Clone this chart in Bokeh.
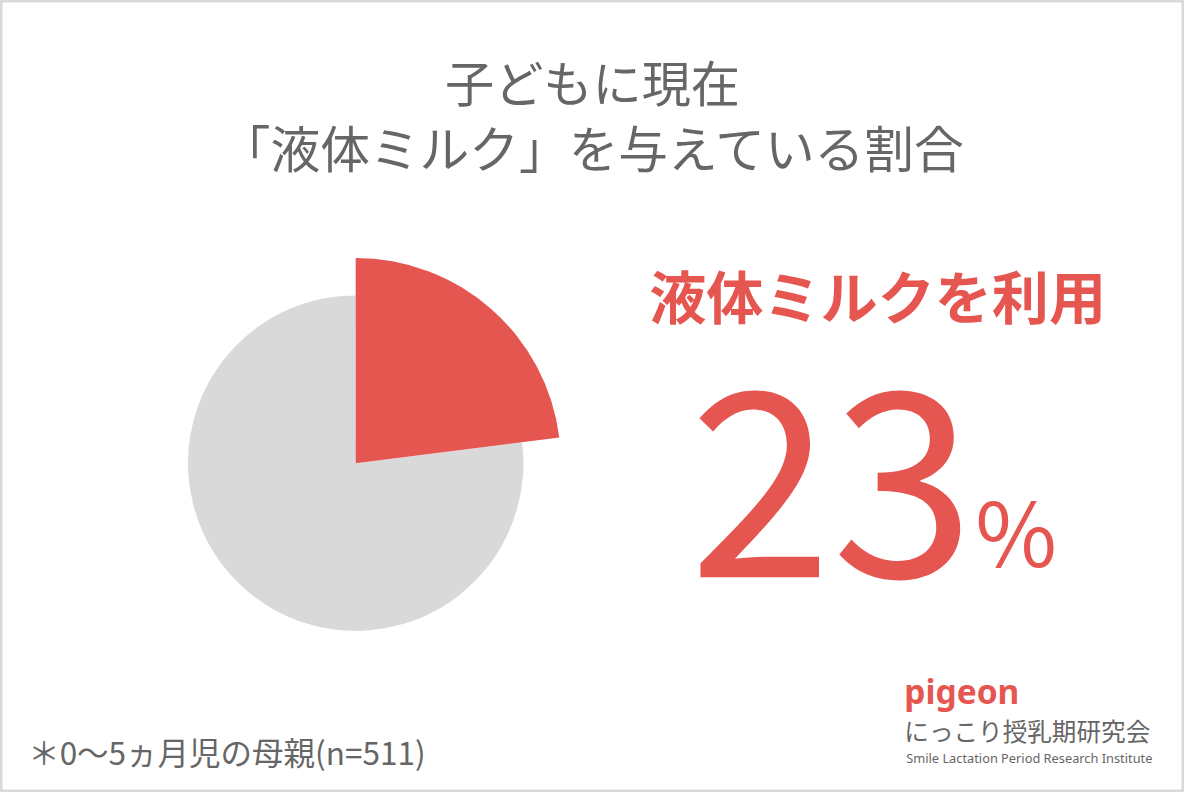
import math
from bokeh.plotting import figure
from bokeh.models import Range1d
from bokeh.core.properties import value
from bokeh.embed import file_html
from bokeh.resources import INLINE

# ---- data ----
categories = ["液体ミルクを利用", "その他"]
shares = [23, 77]
slice_colors = ["#e65651", "#d9d9d9"]
title_lines = ["子どもに現在", "「液体ミルク」を与えている割合"]
highlight_label = "液体ミルクを利用"
note_text = "＊0〜5ヵ月児の母親(n=511)"
logo_name = "pigeon"
logo_jp = "にっこり授乳期研究会"
logo_en = "Smile Lactation Period Research Institute"

RED = "#e65651"
GRAY_TXT = "#666666"
JP = value("Noto Sans CJK JP")
LAT = value("Noto Sans")

W, H = 1184, 792
p = figure(width=W, height=H, x_range=Range1d(0, 1200), y_range=Range1d(0, 808),
           output_backend="svg", toolbar_location=None, min_border=0)
p.axis.visible = False
p.grid.visible = False
p.outline_line_color = "#d9d9d9"
p.outline_line_width = 4
p.background_fill_color = "white"
p.border_fill_color = "white"


def Y(py):
    return 808 - py


def fs(px):
    return f"{px * 0.985:.1f}px"


# ---- pie ----
cx, cy = 360, Y(472)
total = sum(shares)
cum = 0.0
starts, ends = [], []
for s in shares:
    a = math.pi / 2 - 2 * math.pi * cum / total
    cum += s
    b = math.pi / 2 - 2 * math.pi * cum / total
    starts.append(b)
    ends.append(a)
radii = [208, 170]
for i in [1, 0]:
    p.wedge(x=cx, y=cy, radius=radii[i], radius_units="data",
            start_angle=starts[i], end_angle=ends[i],
            fill_color=slice_colors[i], line_color=None)

# ---- texts ----
p.text(x=[600], y=[Y(82)], text=[title_lines[0]], text_font=JP, text_font_size=fs(50),
       text_color=GRAY_TXT, text_align="center", text_baseline="middle")
p.text(x=[601], y=[Y(148)], text=[title_lines[1]], text_font=JP, text_font_size=fs(50.5),
       text_color=GRAY_TXT, text_align="center", text_baseline="middle")

p.text(x=[889], y=[Y(299)], text=[highlight_label], text_font=JP, text_font_size=fs(58),
       text_font_style="bold", text_color=RED, text_align="center", text_baseline="middle")

p.text(x=[698], y=[Y(492)], text=[str(shares[0])], text_font=JP, text_font_size=fs(261),
       text_color=RED, text_align="left", text_baseline="alphabetic")
p.text(x=[988], y=[Y(539)], text=["%"], text_font=JP, text_font_size=fs(90),
       text_color=RED, text_align="left", text_baseline="alphabetic")

p.text(x=[28], y=[Y(766)], text=[note_text], text_font=JP, text_font_size=fs(32),
       text_color=GRAY_TXT, text_align="left", text_baseline="middle")

p.text(x=[916], y=[Y(704)], text=[logo_name], text_font=LAT, text_font_size=fs(34),
       text_font_style="bold", text_color=RED, text_align="left", text_baseline="middle")
p.text(x=[916], y=[Y(744)], text=[logo_jp], text_font=JP, text_font_size=fs(25),
       text_color=GRAY_TXT, text_align="left", text_baseline="middle")
p.text(x=[918], y=[Y(773)], text=[logo_en], text_font=LAT, text_font_size=fs(13),
       text_color=GRAY_TXT, text_align="left", text_baseline="middle")

open("out.html", "w").write(file_html(p, INLINE))
